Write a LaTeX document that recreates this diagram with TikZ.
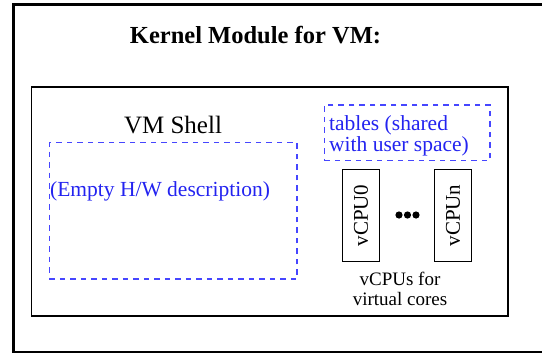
\documentclass[tikz,border=0pt]{standalone}
\usepackage{fontspec}
\setmainfont{Liberation Serif}
\usepackage{tikz}
\usetikzlibrary{positioning}
\definecolor{ShellBlue}{HTML}{2323F0}
\definecolor{DashBlue}{HTML}{4646FF}

\begin{document}
\begin{tikzpicture}[x=1pt, y=-1pt,
    box/.style={
      rectangle, draw=black, line width=1.5pt, inner sep=0pt
    },
    dashbox/.style={
      rectangle, draw=DashBlue, line width=1.2pt,
      dash pattern=on 5.5pt off 5pt, inner sep=0pt
    },
    cpu/.style={
      rectangle, draw=black, line width=1pt, inner sep=0pt,
      minimum width=92pt, minimum height=37pt, rotate=90,
      font=\fontsize{21}{25}\selectfont
    },
    bluetext/.style={
      text=ShellBlue, inner sep=0pt, font=\fontsize{21.5}{21.7}\selectfont
    }
  ]
    \useasboundingbox (0,0) rectangle (542,354);
    \begin{scope}
      \clip (0,0) rectangle (542,354);
      \node[box, line width=2.5pt, minimum width=532.5pt,
        minimum height=347.5pt] (kernel) at (279.75,178.25) {};
    \end{scope}
    \node[inner sep=0pt, anchor=base, font=\fontsize{24.5}{28}\selectfont\bfseries]
      (title) at (255.5,43) {Kernel Module for VM:};

    \node[box, minimum width=476.5pt, minimum height=229pt] (vm) at (269.75,201.5) {};

    \node[inner sep=0pt, anchor=base, font=\fontsize{25}{29}\selectfont]
      (shell) at (173,133) {VM Shell};
    \node[dashbox, minimum width=247.7pt, minimum height=136.3pt] (hw) at (173.2,210.9) {};
    \node[bluetext, anchor=base west] (hwtext) at (50,196.5) {(Empty H/W description)};

    \node[dashbox, minimum width=165.7pt, minimum height=55.7pt] (tables) at (407.2,132.9) {};
    \node[bluetext, align=left, anchor=base west] (tablestext) at (329,151.7)
      {tables (shared\\with user space)};

    \node[cpu] (cpu0) at (361,215.5) {vCPU0};
    \node[cpu] (cpun) at (453,215.5) {vCPUn};
    \foreach \x in {399,407.5,416}
      \fill (\x,215) circle (3.6pt);

    \node[inner sep=0pt, align=center, anchor=base, font=\fontsize{19}{19.5}\selectfont]
      (cpulabel) at (400,305) {vCPUs for\\virtual cores};
  \end{tikzpicture}
\end{document}
